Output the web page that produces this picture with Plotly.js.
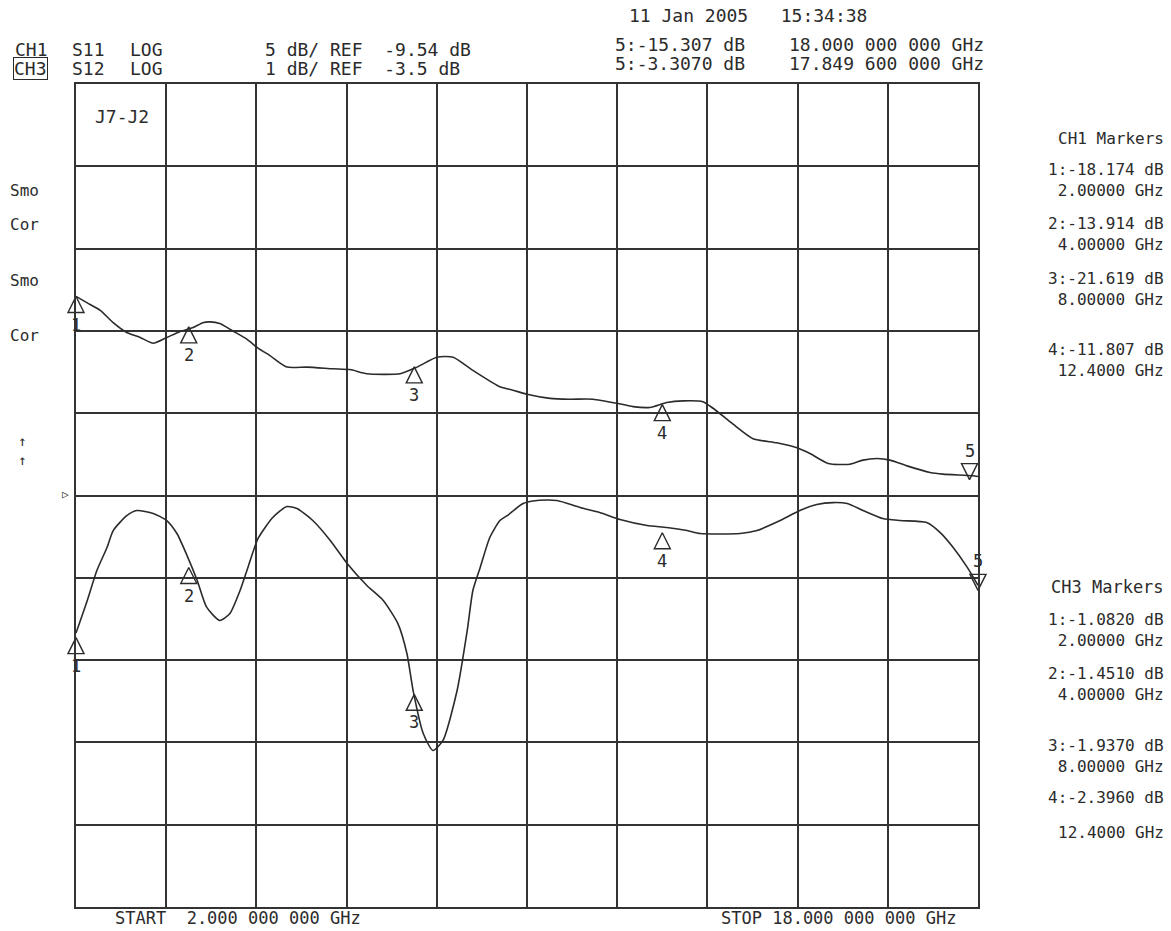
<!DOCTYPE html>
<html>
<head>
<meta charset="utf-8">
<script src="https://cdn.plot.ly/plotly-3.0.1.min.js"></script>
<style>
  html, body { margin: 0; padding: 0; background: #ffffff; }
  #chart { width: 1171px; height: 931px; }
</style>
</head>
<body>
<div id="chart"></div>
<script>
// sweep settings
const FREQ_START = 2;
const FREQ_STOP = 18;
const CH1_REF = -9.54;   // S11, 5 dB/div
const CH1_SCALE = 5;
const CH3_REF = -3.5;    // S12, 1 dB/div
const CH3_SCALE = 1;

// CH3 S12 trace (upper), GHz / dB
const s12Freq = [2.00, 2.20, 2.43, 2.66, 2.90, 3.14, 3.37, 3.61, 3.84, 4.08, 4.25, 4.38, 4.55, 4.78,
  5.03, 5.23, 5.44, 5.74, 6.10, 6.56, 6.86, 7.16, 7.75, 8.05, 8.40, 8.69, 9.04, 9.52, 9.75, 10.00,
  10.41, 10.76, 11.17, 11.60, 11.88, 12.18, 12.48, 12.77, 13.12, 13.30, 13.65, 14.01, 14.43, 14.79,
  15.02, 15.34, 15.73, 15.96, 16.21, 16.44, 16.74, 17.15, 17.38, 17.91, 18.00];
const s12Db = [-1.08, -1.16, -1.25, -1.40, -1.52, -1.58, -1.65, -1.58, -1.51, -1.46, -1.40, -1.39, -1.41, -1.50,
  -1.60, -1.71, -1.80, -1.94, -1.94, -1.96, -1.97, -2.02, -2.02, -1.94, -1.82, -1.82, -1.98, -2.18, -2.22, -2.27,
  -2.32, -2.33, -2.33, -2.38, -2.42, -2.43, -2.37, -2.35, -2.36, -2.44, -2.63, -2.81, -2.86, -2.92,
  -2.99, -3.11, -3.12, -3.07, -3.05, -3.07, -3.14, -3.22, -3.24, -3.26, -3.27];

// CH1 S11 trace (lower), GHz / dB
const s11Freq = [2.00, 2.20, 2.37, 2.55, 2.66, 2.90, 3.08, 3.37, 3.61, 3.79, 3.97, 4.15, 4.32, 4.55, 4.73,
  4.91, 5.05, 5.23, 5.49, 5.74, 5.92, 6.20, 6.51, 6.81, 7.16, 7.45, 7.71, 7.87, 7.98, 8.16, 8.33, 8.51,
  8.76, 8.94, 9.04, 9.17, 9.34, 9.52, 9.65, 9.93, 10.18, 10.53, 10.94, 11.29, 11.65, 12.13, 12.48, 12.84,
  13.07, 13.78, 14.08, 14.49, 14.84, 15.14, 15.43, 15.68, 15.96, 16.31, 16.62, 17.09, 17.33, 17.56, 17.81, 18.00];
const s11Db = [-17.90, -15.92, -14.10, -12.70, -11.67, -10.76, -10.45, -10.63, -11.06, -11.85, -13.19, -14.70, -16.34, -17.13, -16.71,
  -15.31, -13.91, -12.15, -10.88, -10.21, -10.33, -11.06, -12.27, -13.67, -15.01, -15.92, -17.32, -19.14, -21.39, -24.00, -25.03, -24.42,
  -21.39, -17.74, -15.31, -13.91, -12.09, -11.06, -10.76, -10.03, -9.84, -9.84, -10.27, -10.57, -11.00, -11.36, -11.48, -11.67,
  -11.85, -11.85, -11.67, -11.06, -10.45, -10.09, -9.97, -10.03, -10.45, -10.94, -11.06, -11.18, -11.79, -12.70, -13.91, -15.00];

// marker readouts
const markerFreq = [2, 4, 8, 12.4];
const ch1MarkerDb = [-18.174, -13.914, -21.619, -11.807];
const ch3MarkerDb = [-1.082, -1.451, -1.937, -2.396];
const marker5Freq = [18.0, 17.8496];      // CH1, CH3
const marker5Db = [-15.307, -3.307];      // CH1, CH3

// plot box in page pixels, used to place the screen texts
const BOX = { l: 76, t: 84, w: 902, h: 823 };
const px = (x) => (x - BOX.l) / BOX.w;
const py = (y) => (BOX.t + BOX.h - y) / BOX.h;

const INK = "#2b2b2b";
const MONO = "DejaVu Sans Mono, monospace";

const label = (text, x, y, size, extra) => Object.assign({
  text: text,
  xref: "paper",
  yref: "paper",
  x: px(x),
  y: py(y),
  xanchor: "left",
  yanchor: "middle",
  showarrow: false,
  font: { family: MONO, size: size || 17, color: INK }
}, extra || {});

const annotations = [
  label("CH1", 13, 50, 18),
  label("S11", 70, 50, 18),
  label("LOG", 128, 50, 18),
  label("5 dB/ REF  " + CH1_REF.toFixed(2) + " dB", 263, 49, 18),
  label("CH3", 13, 68, 18, { bordercolor: INK, borderwidth: 1, borderpad: 0 }),
  label("S12", 70, 68, 18),
  label("LOG", 128, 68, 18),
  label("1 dB/ REF  " + CH3_REF.toFixed(1) + " dB", 263, 68, 18),
  label("11 Jan 2005   15:34:38", 627, 15, 18),
  label("5:" + marker5Db[0].toFixed(3) + " dB", 613, 45, 18),
  label("18.000 000 000 GHz", 986, 45, 18, { xanchor: "right" }),
  label("5:" + marker5Db[1].toFixed(4) + " dB", 613, 64, 18),
  label("17.849 600 000 GHz", 986, 64, 18, { xanchor: "right" }),
  label("J7-J2", 93, 116, 18),
  label("Smo", 8, 190, 16),
  label("Cor", 8, 225, 16),
  label("Smo", 8, 280, 16),
  label("Cor", 8, 335, 16),
  label("↑", 16, 441, 14),
  label("↑", 16, 460, 14),
  label("▷", 60, 494, 11),
  label("START  2.000 000 000 GHz", 113, 918),
  label("STOP 18.000 000 000 GHz", 958, 918, 17, { xanchor: "right" }),
  label("CH1 Markers", 1166, 138, 16, { xanchor: "right" }),
  label("CH3 Markers", 1166, 587, 17, { xanchor: "right" })
];

// marker readout blocks on the right, value line over frequency line
const ch1Rows = [180, 234, 289, 360];
const ch3Rows = [630, 684, 756];
markerFreq.forEach((f, i) => {
  const freqText = f.toPrecision(6) + " GHz";
  annotations.push(label((i + 1) + ":" + ch1MarkerDb[i].toFixed(3) + " dB<br> " + freqText, 1166, ch1Rows[i], 16,
    { xanchor: "right", align: "right" }));
  if (i < ch3Rows.length) {
    annotations.push(label((i + 1) + ":" + ch3MarkerDb[i].toFixed(4) + " dB<br> " + freqText, 1166, ch3Rows[i], 16,
      { xanchor: "right", align: "right" }));
  } else {
    // last CH3 readout is printed with a gap between its two lines
    annotations.push(label((i + 1) + ":" + ch3MarkerDb[i].toFixed(4) + " dB", 1166, 797, 16, { xanchor: "right" }));
    annotations.push(label(freqText, 1166, 832, 16, { xanchor: "right" }));
  }
});

// marker numbers under the up-pointing triangles (over the down one for marker 5)
const markerNum = (f, db, yref, n, above) => ({
  text: String(n),
  x: f, y: db, xref: "x", yref: yref,
  xanchor: "center", yanchor: "middle",
  yshift: above ? 29 : -28,
  showarrow: false,
  font: { family: MONO, size: 17, color: INK }
});
markerFreq.forEach((f, i) => {
  annotations.push(markerNum(f, ch1MarkerDb[i], "y", i + 1, false));
  annotations.push(markerNum(f, ch3MarkerDb[i], "y2", i + 1, false));
});
annotations.push(markerNum(marker5Freq[0], marker5Db[0], "y", 5, true));
annotations.push(markerNum(marker5Freq[1], marker5Db[1], "y2", 5, true));

const traceLine = { color: INK, width: 1.6, shape: "spline", smoothing: 0.6 };
const triMarker = (symbol) => ({ symbol: symbol, size: 16, color: INK, line: { color: INK, width: 1.4 } });
const markerTrace = (x, y, yaxis, symbol) => ({
  x: x, y: y, yaxis: yaxis, type: "scatter", mode: "markers",
  marker: triMarker(symbol), hoverinfo: "skip", cliponaxis: false
});
const data = [
  { x: s12Freq, y: s12Db, yaxis: "y2", type: "scatter", mode: "lines", line: traceLine, hoverinfo: "skip" },
  { x: s11Freq, y: s11Db, yaxis: "y", type: "scatter", mode: "lines", line: traceLine, hoverinfo: "skip" },
  // arrow symbols have their tip on the data point
  markerTrace(markerFreq, ch3MarkerDb, "y2", "arrow-up-open"),
  markerTrace(markerFreq, ch1MarkerDb, "y", "arrow-up-open"),
  markerTrace([marker5Freq[1]], [marker5Db[1]], "y2", "arrow-down-open"),
  markerTrace([marker5Freq[0]], [marker5Db[0]], "y", "arrow-down-open")
];

const gridAxis = {
  showgrid: true,
  gridcolor: "#333333",
  gridwidth: 2,
  zeroline: false,
  showline: true,
  linecolor: "#333333",
  linewidth: 2,
  mirror: true,
  ticks: "",
  showticklabels: false
};

const layout = {
  width: 1171,
  height: 931,
  margin: { l: BOX.l, r: 1171 - BOX.l - BOX.w, t: BOX.t, b: 931 - BOX.t - BOX.h },
  paper_bgcolor: "#ffffff",
  plot_bgcolor: "#ffffff",
  showlegend: false,
  xaxis: Object.assign({
    range: [FREQ_START, FREQ_STOP],
    tick0: FREQ_START,
    dtick: (FREQ_STOP - FREQ_START) / 10
  }, gridAxis),
  yaxis: Object.assign({
    range: [CH1_REF - 5 * CH1_SCALE, CH1_REF + 5 * CH1_SCALE],
    tick0: CH1_REF,
    dtick: CH1_SCALE
  }, gridAxis),
  yaxis2: {
    range: [CH3_REF - 5 * CH3_SCALE, CH3_REF + 5 * CH3_SCALE],
    overlaying: "y",
    side: "right",
    showgrid: false,
    zeroline: false,
    showline: false,
    ticks: "",
    showticklabels: false
  },
  annotations: annotations
};

Plotly.newPlot("chart", data, layout, { displayModeBar: false, staticPlot: true });
</script>
</body>
</html>
